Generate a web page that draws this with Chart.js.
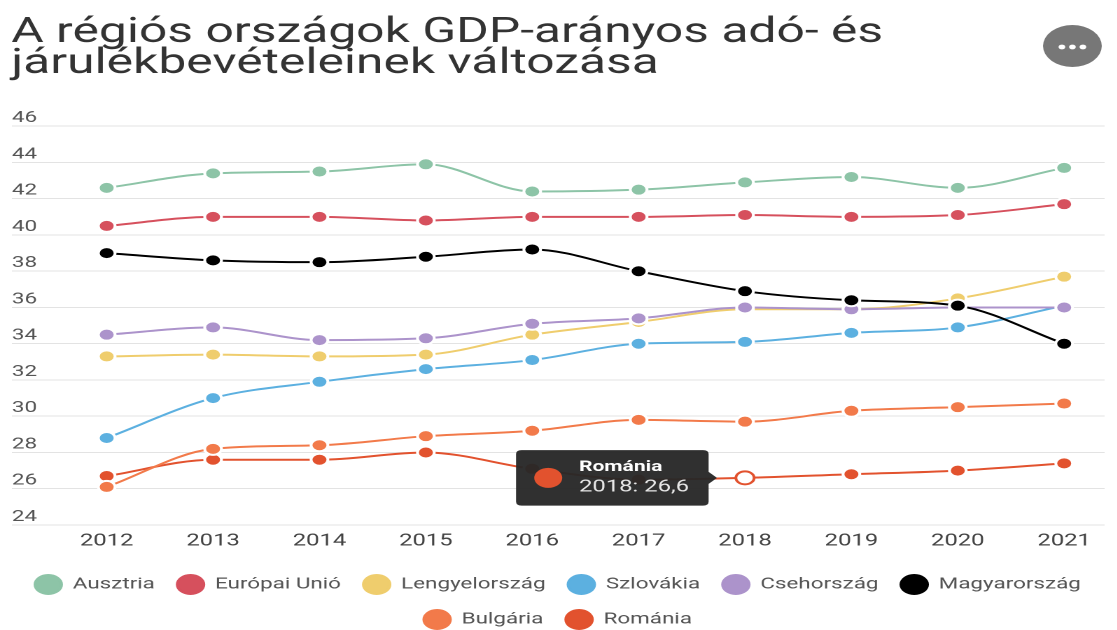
<!DOCTYPE html>
<html>
<head>
<meta charset="utf-8">
<script src="https://cdn.jsdelivr.net/npm/chart.js@4.4.1/dist/chart.umd.min.js"></script>
<style>
html, body { margin:0; padding:0; overflow:hidden; background:#fff; width:1117px; height:630px; }
#wrap { position:absolute; left:0; top:0; width:798px; height:639px; transform:scaleX(1.4); transform-origin:0 0; }
canvas { display:block; }
</style>
</head>
<body>
<div id="wrap"><canvas id="c" width="798" height="639"></canvas></div>
<script>
const years = [2012, 2013, 2014, 2015, 2016, 2017, 2018, 2019, 2020, 2021];
const yTicks = [24, 26, 28, 30, 32, 34, 36, 38, 40, 42, 44, 46];

const ausztria     = [42.6, 43.4, 43.5, 43.9, 42.4, 42.5, 42.9, 43.2, 42.6, 43.7];
const europaiUnio  = [40.5, 41.0, 41.0, 40.8, 41.0, 41.0, 41.1, 41.0, 41.1, 41.7];
const lengyel      = [33.3, 33.4, 33.3, 33.4, 34.5, 35.2, 35.9, 35.9, 36.5, 37.7];
const szlovakia    = [28.8, 31.0, 31.9, 32.6, 33.1, 34.0, 34.1, 34.6, 34.9, 36.1];
const cseh         = [34.5, 34.9, 34.2, 34.3, 35.1, 35.4, 36.0, 35.9, 36.0, 36.0];
const magyar       = [39.0, 38.6, 38.5, 38.8, 39.2, 38.0, 36.9, 36.4, 36.1, 34.0];
const bulgaria     = [26.1, 28.2, 28.4, 28.9, 29.2, 29.8, 29.7, 30.3, 30.5, 30.7];
const romania      = [26.7, 27.6, 27.6, 28.0, 27.1, 26.5, 26.6, 26.8, 27.0, 27.4];

const seriesNames = ['Ausztria', 'Európai Unió', 'Lengyelország', 'Szlovákia', 'Csehország', 'Magyarország', 'Bulgária', 'Románia'];
const seriesValues = [ausztria, europaiUnio, lengyel, szlovakia, cseh, magyar, bulgaria, romania];
const seriesColors = ['#8dc4a7', '#d6505d', '#efcd6d', '#5cb0e0', '#ac93cb', '#000000', '#f27a4a', '#e2522e'];
const seriesOrder = [3, 3, 3, 3, 2, 1, 3, 3];

Chart.defaults.font.family = 'Roboto';

const datasets = seriesNames.map((name, k) => ({
  label: name,
  data: years.map((x, i) => ({ x: x, y: seriesValues[k][i] })),
  borderColor: seriesColors[k],
  backgroundColor: seriesColors[k],
  pointBackgroundColor: seriesColors[k],
  pointBorderColor: '#ffffff',
  pointBorderWidth: 2,
  pointRadius: 6,
  pointHoverRadius: 6.5,
  pointHoverBackgroundColor: '#ffffff',
  pointHoverBorderColor: seriesColors[k],
  pointHoverBorderWidth: 2,
  borderWidth: 2,
  cubicInterpolationMode: 'monotone',
  order: seriesOrder[k]
}));

const extras = {
  id: 'extras',
  afterDraw(chart) {
    const ctx = chart.ctx;
    const cx = chart.width - 32, cy = 46;
    ctx.save();
    ctx.fillStyle = '#777777';
    ctx.beginPath(); ctx.arc(cx, cy, 21, 0, Math.PI * 2); ctx.fill();
    ctx.fillStyle = '#ffffff';
    [-7.5, 0, 7.5].forEach(dx => { ctx.beginPath(); ctx.arc(cx + dx, cy + 1, 2.4, 0, Math.PI * 2); ctx.fill(); });
    ctx.restore();
  },
  afterTooltipDraw(chart, args) {
    const t = args.tooltip;
    if (!t.opacity || !t.dataPoints || !t.dataPoints.length) return;
    const ctx = chart.ctx;
    ctx.save();
    ctx.fillStyle = t.dataPoints[0].dataset.borderColor;
    ctx.beginPath(); ctx.arc(t.x + 23, t.y + t.height / 2, 10, 0, Math.PI * 2); ctx.fill();
    ctx.restore();
  }
};

const chart = new Chart(document.getElementById('c'), {
  type: 'line',
  data: { datasets: datasets },
  plugins: [extras],
  options: {
    responsive: false,
    devicePixelRatio: 2,
    animation: false,
    events: [],
    layout: { padding: { left: 8, right: 9, top: 0, bottom: 0 } },
    scales: {
      x: {
        type: 'linear',
        min: 2011.109,
        max: 2021.38,
        afterBuildTicks: axis => { axis.ticks = years.map(v => ({ value: v })); },
        ticks: { callback: v => String(v), color: '#444', font: { size: 17 }, padding: 6, maxRotation: 0, autoSkip: false },
        grid: { display: false, drawTicks: false },
        border: { display: false }
      },
      y: {
        min: yTicks[0],
        max: yTicks[yTicks.length - 1],
        afterBuildTicks: axis => { axis.ticks = yTicks.map(v => ({ value: v })); },
        ticks: { mirror: true, padding: 0, labelOffset: -8, color: '#555', font: { size: 16 } },
        grid: { color: '#e3e3e3', lineWidth: 1, drawTicks: false },
        border: { display: false }
      }
    },
    plugins: {
      title: {
        display: true,
        text: ['A régiós országok GDP-arányos adó- és', 'járulékbevételeinek változása'],
        align: 'start',
        color: '#333',
        font: { size: 35.6, weight: 'normal', lineHeight: 0.86 },
        padding: { top: 18, bottom: 47 }
      },
      legend: {
        position: 'bottom',
        align: 'center',
        title: { display: true, text: '', font: { size: 1 }, padding: { top: 0.4, bottom: 0 } },
        labels: {
          sort: (a, b) => a.datasetIndex - b.datasetIndex,
          color: '#555',
          font: { size: 16 },
          boxWidth: 19,
          boxHeight: 19,
          useBorderRadius: true,
          borderRadius: 9.5,
          padding: 16
        }
      },
      tooltip: {
        enabled: true,
        xAlign: 'right',
        yAlign: 'center',
        backgroundColor: 'rgba(40,40,40,0.96)',
        caretSize: 6,
        caretPadding: 20,
        cornerRadius: 4,
        padding: { left: 45, right: 14, top: 8, bottom: 8 },
        displayColors: false,
        titleColor: '#ffffff',
        titleFont: { size: 15, weight: 'bold' },
        titleMarginBottom: 1,
        bodyColor: '#e6e6e6',
        bodyFont: { size: 17 },
        callbacks: {
          title: items => items[0].dataset.label,
          label: ctx => ctx.parsed.x + ': ' + ctx.parsed.y.toFixed(1).replace('.', ',')
        }
      }
    }
  }
});

const active = [{ datasetIndex: 7, index: 6 }];
chart.setActiveElements(active);
chart.tooltip.setActiveElements(active, { x: 0, y: 0 });
chart.update();
</script>
</body>
</html>
